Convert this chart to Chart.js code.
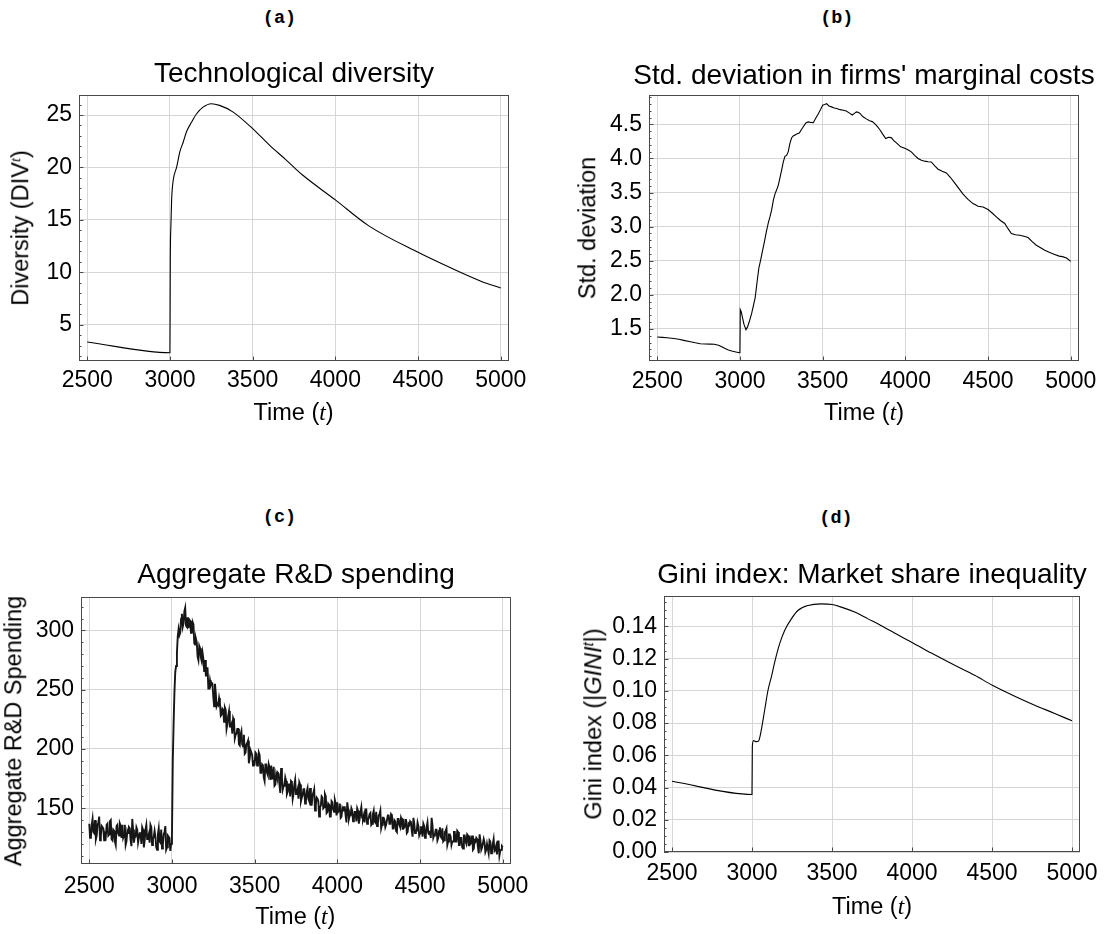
<!DOCTYPE html>
<html>
<head>
<meta charset="utf-8">
<script src="https://cdn.jsdelivr.net/npm/chart.js@4.4.1/dist/chart.umd.min.js"></script>
<style>
  html, body { margin: 0; padding: 0; background: #fff; }
  #page { position: relative; width: 1105px; height: 934px; overflow: hidden; background: #fff;
          font-family: 'Liberation Sans', Arial, sans-serif; color: #000; }
  #page canvas { position: absolute; }
  .txt { position: absolute; white-space: nowrap; line-height: 1; }
  .tag { font-family: 'Liberation Mono', 'DejaVu Sans Mono'; font-weight: bold; }
  .var { font-family: 'Liberation Serif', 'Times New Roman', serif; font-style: italic; }
  .ivar { font-style: italic; }
  sup { font-size: 0.62em; vertical-align: 0.55em; line-height: 0; }
</style>
</head>
<body>
<div id="page">
  <canvas id="divChart"></canvas>
  <canvas id="sdChart"></canvas>
  <canvas id="rdChart"></canvas>
  <canvas id="giniChart"></canvas>
</div>
<script>
// (a) technological diversity DIV^t
const divTime  = [2500, 3000, 3002, 3006, 3010, 3020, 3040, 3060, 3080, 3100, 3130, 3160, 3200,
                  3250, 3300, 3380, 3500, 3600, 3700, 3800, 4000, 4200, 4500, 4700, 4880, 5000];
const divValue = [3.34, 2.32, 11.0, 14.6, 16.9, 18.8, 20.0, 21.5, 22.4, 23.4, 24.3, 25.1, 25.75,
                  26.08, 25.92, 25.3, 23.7, 22.15, 20.75, 19.3, 16.9, 14.45, 11.9, 10.4, 9.15, 8.49];
const divTicks = [5, 10, 15, 20, 25];

// (b) std. deviation of the firms' marginal costs
const sdTime = [
  2500, 2530, 2560, 2600, 2630, 2660, 2700, 2730, 2760, 2790, 2820, 2845, 2870, 2890, 2910, 2930, 2950, 2975, 2998,
  3000, 3002, 3008, 3016, 3024, 3036, 3046, 3058, 3070, 3082, 3092,
  3104, 3114, 3125, 3136, 3148, 3160, 3171, 3182, 3191, 3202,
  3212, 3222, 3232, 3242, 3252, 3262, 3272, 3282, 3292, 3302,
  3312, 3322, 3333, 3346, 3359, 3371, 3383, 3398, 3413,
  3428, 3443, 3458, 3474, 3488, 3500, 3512, 3524,
  3538, 3554, 3570, 3585, 3605, 3625,
  3643, 3660, 3679, 3692, 3704, 3714, 3724,
  3744, 3764, 3784, 3800, 3815,
  3830, 3845, 3862, 3881, 3898, 3915, 3930, 3946,
  3972, 4000, 4018, 4036, 4056, 4077,
  4097, 4117, 4137, 4157, 4178, 4198,
  4223, 4248, 4273, 4298, 4323, 4349, 4379, 4409, 4440, 4470, 4500,
  4525, 4550, 4575, 4601, 4621, 4641, 4666, 4692, 4717, 4742, 4767, 4792,
  4818, 4843, 4873, 4903, 4930, 4950, 4975, 5000];
const sdValue = [
  1.383, 1.376, 1.370, 1.360, 1.348, 1.332, 1.312, 1.297, 1.284, 1.280, 1.278, 1.275, 1.260, 1.238, 1.214, 1.192, 1.176, 1.162, 1.150,
  1.160, 1.784, 1.750, 1.660, 1.570, 1.490, 1.530, 1.620, 1.720, 1.850, 1.960,
  2.200, 2.390, 2.510, 2.640, 2.780, 2.930, 3.050, 3.150, 3.240, 3.390,
  3.480, 3.540, 3.610, 3.720, 3.830, 3.950, 4.030, 4.045, 4.100, 4.220,
  4.300, 4.330, 4.345, 4.362, 4.372, 4.420, 4.465, 4.520, 4.536,
  4.528, 4.524, 4.590, 4.656, 4.720, 4.780, 4.790, 4.802,
  4.770, 4.756, 4.740, 4.732, 4.715, 4.706,
  4.695, 4.668, 4.636, 4.660, 4.682, 4.676, 4.664,
  4.610, 4.580, 4.552, 4.540, 4.510,
  4.470, 4.424, 4.360, 4.292, 4.310, 4.305, 4.262, 4.228,
  4.170, 4.145, 4.124, 4.096, 4.045, 4.000,
  3.972, 3.960, 3.952, 3.948, 3.890, 3.842,
  3.812, 3.788, 3.720, 3.642, 3.560, 3.476, 3.400, 3.338, 3.300, 3.288, 3.250,
  3.200, 3.144, 3.090, 3.046, 2.970, 2.900, 2.880, 2.874, 2.858, 2.840, 2.780, 2.728,
  2.690, 2.655, 2.620, 2.592, 2.568, 2.560, 2.540, 2.490];
const sdTicks = [1.5, 2.0, 2.5, 3.0, 3.5, 4.0, 4.5];

// (c) aggregate R&D spending, one reading every 5 periods from t = 2500
const rdStart = 2500, rdStep = 5;
const rdValue = [
  137, 125, 126, 136, 141, 130, 129, 140, 124, 127, 136, 138, 143, 123, 127, 135, 134, 133, 123, 128,   // 2500
  126, 136, 137, 127, 128, 139, 140, 124, 123, 132, 131, 122, 119, 135, 136, 129, 127, 137, 135, 125,   // 2600
  136, 125, 127, 136, 119, 122, 131, 129, 134, 133, 123, 118, 141, 132, 121, 126, 126, 134, 132, 121,   // 2700
  121, 129, 129, 120, 134, 132, 117, 123, 132, 136, 124, 125, 128, 121, 136, 134, 119, 124, 126, 131,   // 2800
  126, 117, 115, 128, 133, 122, 121, 132, 116, 119, 128, 130, 135, 115, 117, 127, 126, 125, 114, 120,   // 2900
  127, 190, 222, 248, 265, 270, 281, 295, 301, 296, 298, 310, 314, 303, 306, 316, 319, 304, 303, 311,   // 3000
  302, 309, 308, 298, 298, 307, 305, 289, 288, 293, 290, 278, 275, 287, 285, 277, 274, 281, 276, 265,   // 3100
  275, 262, 262, 269, 251, 251, 258, 254, 256, 255, 244, 236, 255, 247, 236, 238, 237, 243, 239, 228,   // 3200
  229, 234, 233, 223, 235, 233, 217, 221, 228, 232, 219, 219, 221, 213, 226, 224, 209, 212, 213, 217,   // 3300
  217, 204, 203, 212, 215, 204, 202, 212, 196, 197, 204, 205, 207, 188, 192, 199, 197, 195, 186, 189,   // 3400
  188, 197, 196, 186, 187, 197, 195, 180, 180, 187, 186, 176, 173, 187, 187, 180, 178, 187, 184, 174,   // 3500
  186, 175, 177, 185, 169, 170, 179, 176, 180, 179, 170, 163, 184, 176, 166, 169, 169, 176, 173, 162,   // 3600
  164, 170, 170, 160, 173, 172, 158, 162, 170, 174, 162, 163, 166, 158, 172, 170, 156, 159, 161, 166,   // 3700
  166, 154, 156, 164, 167, 158, 156, 167, 153, 153, 161, 163, 166, 148, 153, 159, 158, 156, 143, 151,   // 3800
  152, 160, 159, 150, 151, 162, 160, 146, 147, 154, 153, 143, 143, 156, 155, 149, 147, 157, 154, 144,   // 3900
  155, 147, 148, 154, 142, 143, 150, 148, 151, 151, 144, 138, 155, 149, 141, 144, 144, 150, 148, 139,   // 4000
  141, 147, 147, 139, 150, 148, 137, 141, 147, 151, 142, 141, 144, 138, 149, 149, 137, 140, 142, 145,   // 4100
  146, 136, 137, 145, 148, 139, 138, 147, 135, 137, 144, 145, 148, 133, 136, 142, 142, 140, 134, 136,   // 4200
  136, 144, 144, 137, 137, 145, 144, 133, 133, 140, 139, 131, 130, 141, 141, 136, 134, 142, 140, 132,   // 4300
  141, 134, 135, 141, 129, 130, 137, 136, 139, 138, 131, 126, 142, 137, 129, 131, 131, 138, 135, 127,   // 4400
  129, 134, 134, 126, 137, 135, 125, 128, 134, 138, 129, 128, 131, 125, 142, 136, 125, 127, 128, 132,   // 4500
  132, 123, 125, 131, 134, 126, 125, 133, 122, 123, 130, 131, 133, 119, 122, 128, 128, 126, 119, 122,   // 4600
  122, 130, 130, 122, 122, 131, 130, 119, 119, 125, 125, 117, 116, 127, 127, 122, 120, 128, 127, 118,   // 4700
  127, 120, 121, 127, 115, 116, 123, 122, 125, 124, 117, 112, 128, 123, 115, 117, 117, 124, 121, 113,   // 4800
  115, 120, 120, 112, 123, 122, 112, 114, 120, 124, 114, 115, 118, 111, 122, 122, 110, 114, 115, 118,   // 4900
  117];
const rdTime = rdValue.map((_, i) => rdStart + i * rdStep);
const rdTicks = [150, 200, 250, 300];

// (d) Gini index of market shares
const giniTime  = [2500, 3000, 3002, 3010, 3027, 3042, 3058, 3079, 3100, 3121, 3142, 3173, 3204, 3246, 3287, 3350,
                   3433, 3500, 3558, 3642, 3725, 3808, 3933, 4000, 4121, 4267, 4392, 4502, 4642, 4767, 4892, 5000];
const giniValue = [0.0439, 0.0357, 0.0654, 0.0691, 0.0685, 0.0690, 0.0757, 0.0880, 0.1004, 0.1087, 0.1179, 0.1293,
                   0.1375, 0.1447, 0.1499, 0.1530, 0.1540, 0.1536, 0.1520, 0.1489, 0.1447, 0.1405, 0.1336, 0.1301,
                   0.1235, 0.1159, 0.1097, 0.1035, 0.0967, 0.0911, 0.0860, 0.0814];
const giniTicks = [0, 0.02, 0.04, 0.06, 0.08, 0.10, 0.12, 0.14];

// shared time axis
const timeMin = 2450, timeMax = 5050;
const timeTicks = [2500, 3000, 3500, 4000, 4500, 5000];

Chart.defaults.font.family = "'Liberation Sans', Arial, sans-serif";
Chart.defaults.font.size = 23;
Chart.defaults.color = '#000';

const GRID = '#d6d6d6';
const FRAME = '#4a4a4a';

// full box frame plus inward major/minor ticks on the left and bottom edges
const frameTicks = {
  id: 'frameTicks',
  afterDraw(chart, args, opts) {
    const { ctx, chartArea: a, scales: { x, y } } = chart;
    ctx.save();
    ctx.strokeStyle = FRAME;
    ctx.lineWidth = 1;
    ctx.beginPath();
    const first = Math.ceil(y.min / opts.minor - 1e-9);
    for (let k = first; k * opts.minor <= y.max + 1e-9; k++) {
      const py = Math.round(y.getPixelForValue(k * opts.minor)) + 0.5;
      ctx.moveTo(a.left, py); ctx.lineTo(a.left + 2.5, py);
    }
    y.ticks.forEach(t => {
      const py = Math.round(y.getPixelForValue(t.value)) + 0.5;
      ctx.moveTo(a.left, py); ctx.lineTo(a.left + 4.5, py);
    });
    x.ticks.forEach(t => {
      const px = Math.round(x.getPixelForValue(t.value)) + 0.5;
      ctx.moveTo(px, a.bottom); ctx.lineTo(px, a.bottom - 4.5);
    });
    ctx.stroke();
    ctx.strokeRect(Math.round(a.left) + 0.5, Math.round(a.top) + 0.5,
                   Math.round(a.right - a.left) - 1, Math.round(a.bottom - a.top) - 1);
    ctx.restore();
  }
};

function drawPanel(id, frame, xs, ys, yAxis, line) {
  const cv = document.getElementById(id);
  const padL = 80, padT = 30, padR = 40, padB = 45;
  cv.width = frame.r - frame.l + padL + padR;
  cv.height = frame.b - frame.t + padT + padB;
  cv.style.left = (frame.l - padL) + 'px';
  cv.style.top = (frame.t - padT) + 'px';
  return new Chart(cv, {
    type: 'line',
    data: {
      datasets: [{
        data: xs.map((x, i) => ({ x: x, y: ys[i] })),
        borderColor: line.color, borderWidth: line.width,
        pointRadius: 0, tension: 0,
        cubicInterpolationMode: line.smooth ? 'monotone' : 'default'
      }]
    },
    options: {
      responsive: false, animation: false, events: [],
      layout: { padding: { left: 0, top: padT, right: padR, bottom: 0 } },
      plugins: { legend: { display: false }, tooltip: { enabled: false }, frameTicks: { minor: yAxis.minor } },
      scales: {
        x: {
          type: 'linear', min: timeMin, max: timeMax,
          grid: { color: GRID, drawTicks: false }, border: { display: false },
          ticks: { autoSkip: false, maxRotation: 0, padding: frame.xPad, callback: v => String(v) },
          afterBuildTicks: s => { s.ticks = timeTicks.map(v => ({ value: v })); },
          afterFit: s => { s.height = padB; }
        },
        y: {
          min: yAxis.min, max: yAxis.max,
          grid: { color: GRID, drawTicks: false }, border: { display: false },
          ticks: { autoSkip: false, padding: 7, callback: v => v.toFixed(yAxis.digits) },
          afterBuildTicks: s => { s.ticks = yAxis.ticks.map(v => ({ value: v })); },
          afterFit: s => { s.width = padL; }
        }
      }
    },
    plugins: [frameTicks]
  });
}

drawPanel('divChart', { l: 79, r: 509, t: 95, b: 361, xPad: 6 }, divTime, divValue,
  { min: 1.53, max: 26.91, ticks: divTicks, minor: 1, digits: 0 }, { color: '#000', width: 1.1, smooth: true });
drawPanel('sdChart', { l: 649, r: 1079, t: 95, b: 361, xPad: 7 }, sdTime, sdValue,
  { min: 1.03, max: 4.93, ticks: sdTicks, minor: 0.1, digits: 1 }, { color: '#000', width: 1.1, smooth: false });
drawPanel('rdChart', { l: 81, r: 511, t: 597, b: 864, xPad: 9 }, rdTime, rdValue,
  { min: 103, max: 328.2, ticks: rdTicks, minor: 10, digits: 0 }, { color: '#161616', width: 1.9, smooth: false });
drawPanel('giniChart', { l: 664, r: 1080, t: 596, b: 852, xPad: 7.5 }, giniTime, giniValue,
  { min: 0, max: 0.1589, ticks: giniTicks, minor: 0.005, digits: 2 }, { color: '#000', width: 1.1, smooth: true });

// panel letters, titles and axis labels
const page = document.getElementById('page');
function put(html, cls, cx, top, size, rotate) {
  const d = document.createElement('div');
  d.className = 'txt ' + cls;
  d.innerHTML = html;
  d.style.fontSize = size + 'px';
  d.style.left = cx + 'px';
  d.style.top = top + 'px';
  d.style.transform = rotate ? 'translate(-50%, -50%) rotate(-90deg)' : 'translateX(-50%)';
  page.appendChild(d);
}
const atBase = (base, size) => base - 0.8465 * size;

[['(a)', 279.5, 19], ['(b)', 836.8, 19.2], ['(c)', 279.5, 518], ['(d)', 836, 519]]
  .forEach(([s, cx, cy]) => put(s, 'tag', cx, cy - 9.5, 18.5, false));

[['Technological diversity', 294, 83], ["Std. deviation in firms' marginal costs", 864, 84.5],
 ['Aggregate R&amp;D spending', 296, 583.5], ['Gini index: Market share inequality', 872, 583.5]]
  .forEach(([s, cx, base]) => put(s, '', cx, atBase(base, 28), 28, false));

const timeLabel = 'Time (<span class="var">t</span>)';
[[293.6, 420.8], [864, 420.8], [295.4, 924.8], [872, 914.8]]
  .forEach(([cx, base]) => put(timeLabel, '', cx, atBase(base, 23.5), 23.5, false));

[['Diversity (DIV<sup class="var">t</sup>)', 23.2, 227.5],
 ['Std. deviation', 589.9, 227.5],
 ['Aggregate R&amp;D Spending', 16, 730.5],
 ['Gini index (|<span class="ivar">GINI</span><sup class="ivar">t</sup>|)', 596, 723.5]]
  .forEach(([s, cx, cy]) => put(s, '', cx - 2.3, cy, 23.5, true));
</script>
</body>
</html>
